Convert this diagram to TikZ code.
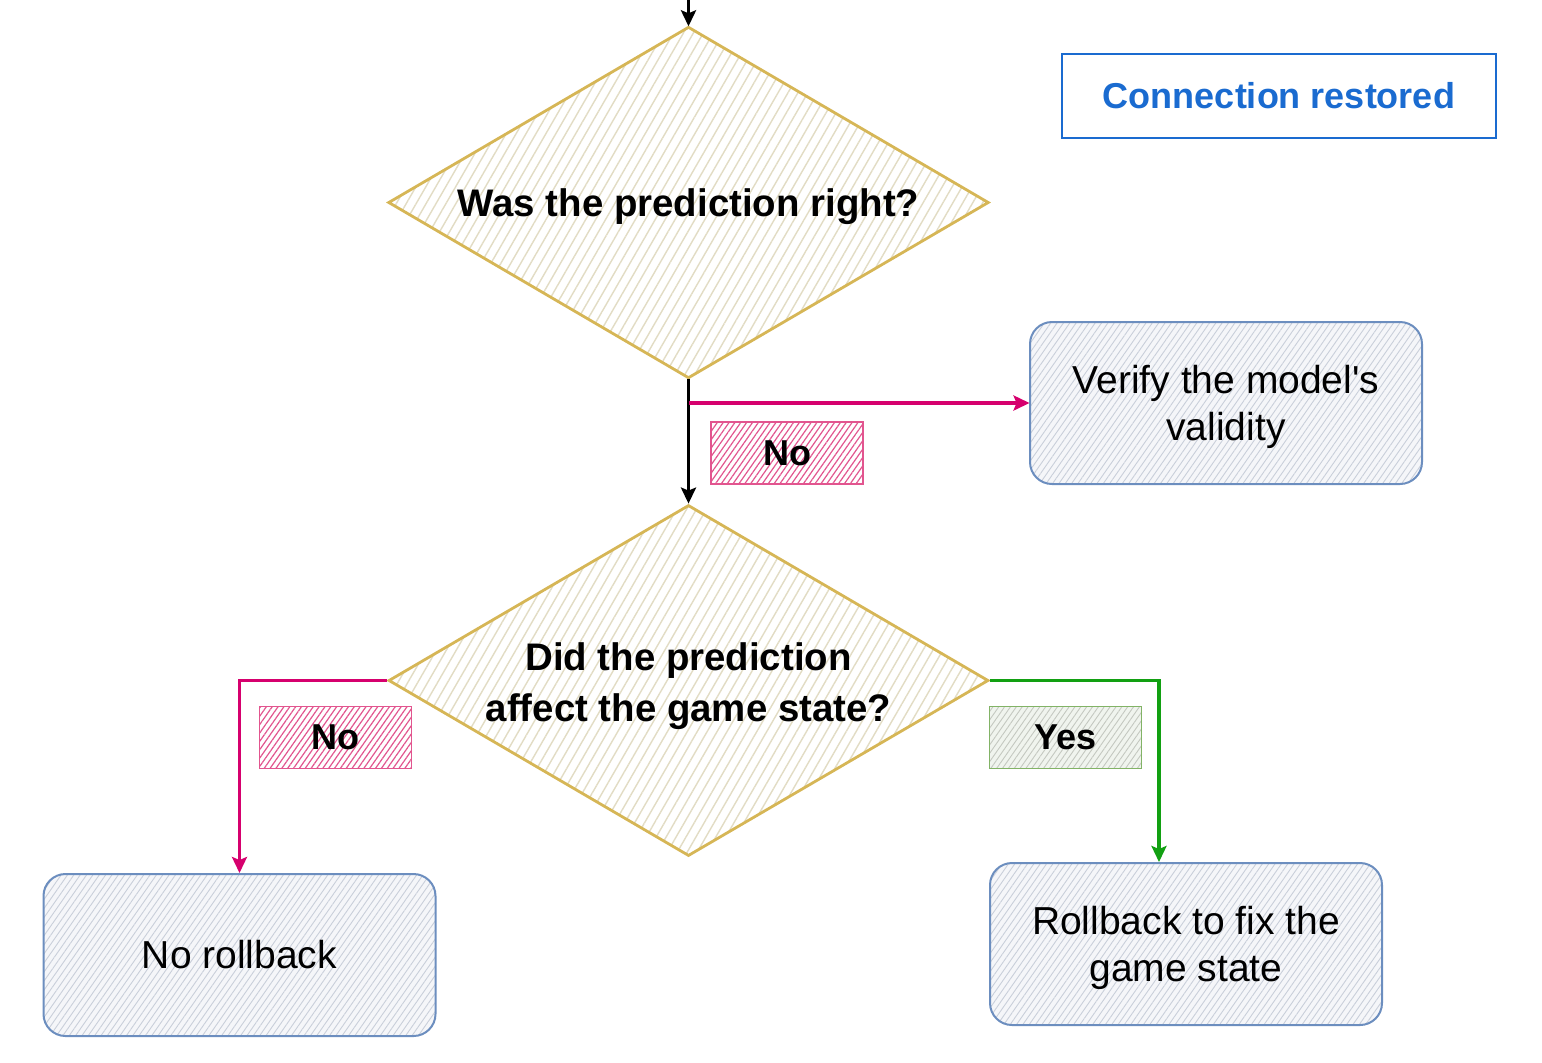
\documentclass[tikz,border=0pt]{standalone}
\usepackage{fontspec}
\setmainfont{Liberation Sans}[Ligatures=TeXOff]
\usetikzlibrary{shapes.geometric,patterns.meta,arrows.meta,calc}
\definecolor{dstroke}{HTML}{D6B656}
\definecolor{dhatch}{HTML}{E2DCC4}
\definecolor{bstroke}{HTML}{6C8EBF}
\definecolor{bhatch}{HTML}{C9CFDA}
\definecolor{bfill}{HTML}{F5F6F9}
\definecolor{pinkc}{HTML}{D6006E}
\definecolor{pinkh}{HTML}{E2558F}
\definecolor{greenc}{HTML}{12A012}
\definecolor{gstroke}{HTML}{82B366}
\definecolor{ghatch}{HTML}{C4C8C0}
\definecolor{gfill}{HTML}{F0F4EE}
\definecolor{bluec}{HTML}{1A6BD0}
\tikzset{
  decision/.style={diamond, aspect=1.709, draw=dstroke, line width=1.4pt, preaction={fill=white},
    pattern={Lines[angle=60,distance=4.3pt,line width=0.7pt]}, pattern color=dhatch,
    minimum width=300pt, minimum height=175.5pt, inner sep=0pt, align=center,
    font=\bfseries\fontsize{19.2}{25.5}\selectfont},
  procbox/.style={rectangle, rounded corners=11pt, draw=bstroke, line width=1pt,
    preaction={fill=bfill}, pattern={Lines[angle=55,distance=2.6pt,line width=0.45pt]},
    pattern color=bhatch, minimum width=196pt, minimum height=81pt, align=center,
    font=\fontsize{19.5}{23.5}\selectfont},
  nolabel/.style={rectangle, draw=pinkh, line width=0.8pt, preaction={fill=white},
    pattern={Lines[angle=55,distance=2.4pt,line width=0.6pt]}, pattern color=pinkh,
    minimum width=76pt, minimum height=31pt, font=\bfseries\fontsize{18}{22}\selectfont},
  yeslabel/.style={rectangle, draw=gstroke, line width=0.8pt, preaction={fill=gfill},
    pattern={Lines[angle=55,distance=2.4pt,line width=0.45pt]}, pattern color=ghatch,
    minimum width=76pt, minimum height=31pt, font=\bfseries\fontsize{18}{22}\selectfont},
  infobox/.style={rectangle, draw=bluec, line width=1pt, text=bluec,
    minimum width=217pt, minimum height=42pt, font=\bfseries\fontsize{18}{21}\selectfont},
  arr/.style={line width=1.7pt, -{Stealth[length=8pt,width=7.5pt,inset=1.5pt]}},
}
\begin{document}
\begin{tikzpicture}[x=0.5pt,y=-0.5pt]
\useasboundingbox (0,0) rectangle (1542,1062);
\node[decision, text height=18pt, text depth=4pt] (d1) at (688.5,202.5) {Was the prediction right?};
\node[decision, text height=44.5pt, text depth=4pt] (d2) at (688.5,680.5) {Did the prediction\\affect the game state?};
\node[procbox, text height=41.7pt, text depth=4.1pt] (verify) at (1226,403) {Verify the model's\\validity};
\node[procbox] (norb) at (239.5,955) {No rollback};
\node[procbox, text height=41.7pt, text depth=4.1pt] (rb) at (1186,944) {Rollback to fix the\\game state};
\node[infobox] (conn) at (1279,96) {Connection restored};
\node[nolabel] (no1) at (787,453) {No};
\node[nolabel] (no2) at (335.5,737.5) {No};
\node[yeslabel] (yes) at (1065.5,737.5) {Yes};
\coordinate (start) at (688.5,-4);
\draw[arr,black] (start) -- (d1.north);
\draw[arr,black] (d1.south) -- (d2.north);
\draw[arr,pinkc] (d1.south |- verify.west) -- (verify.west);
\draw[arr,pinkc] (d2.west) -| (norb.north);
\coordinate (rbin) at ($(rb.north)+(-27,0)$);
\draw[arr,greenc] (d2.east) -| (rbin);
\end{tikzpicture}
\end{document}
